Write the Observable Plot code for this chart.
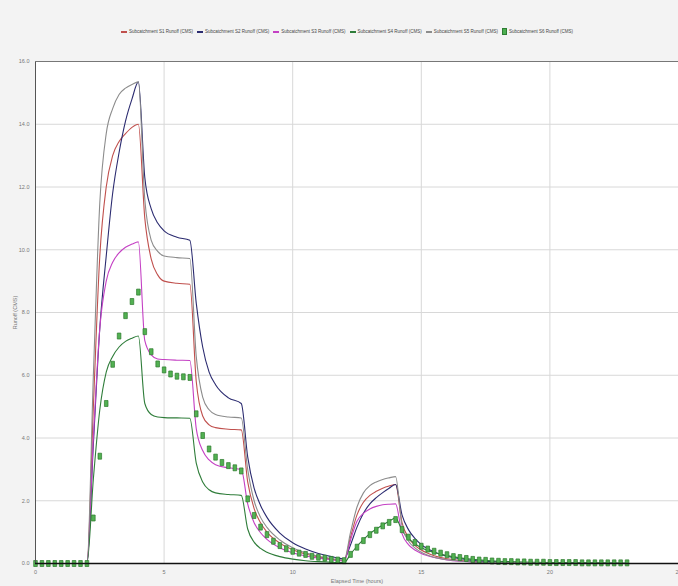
<!DOCTYPE html>
<html>
<head>
<meta charset="utf-8">
<script src="https://cdn.jsdelivr.net/npm/d3@7"></script>
<script src="https://cdn.jsdelivr.net/npm/@observablehq/plot@0.6"></script>
<style>
  html, body { margin: 0; padding: 0; background: #f3f3f3; }
  #wrap { position: relative; width: 678px; height: 586px; overflow: hidden; font-family: "Liberation Sans", Arial, sans-serif; }
  #legend { position: absolute; top: 28px; left: 8px; width: 678px; display: flex; justify-content: center; gap: 4px; font-size: 4.5px; color: #444; white-space: nowrap; }
  #legend .it { display: flex; align-items: center; gap: 2px; }
  #legend .sw { display: inline-block; width: 6px; height: 2px; }
  #legend .mk { display: inline-block; width: 3px; height: 5px; border: 0.6px solid #2e7d32; background: #4caf50; }
  #chart { position: absolute; top: 0; left: 0; }
</style>
</head>
<body>
<div id="wrap">
  <div id="chart"></div>
  <div id="legend"></div>
</div>
<script>
// time (hours) at which the runoff lines are read
const times = [0, 2, 2.25, 2.5, 2.75, 3, 3.25, 3.5, 3.75, 4,
  4.25, 4.5, 4.75, 5, 5.5, 6, 6.25, 6.5, 6.75, 7, 7.5, 8,
  8.25, 8.5, 8.75, 9, 9.5, 10, 10.5, 11, 11.5, 12,
  12.25, 12.5, 12.75, 13, 13.25, 13.5, 13.75, 14,
  14.25, 14.5, 14.75, 15, 15.5, 16, 16.5, 17, 18, 19, 20, 23];

const seriesNames = [
  "Subcatchment S1 Runoff (CMS)",
  "Subcatchment S2 Runoff (CMS)",
  "Subcatchment S3 Runoff (CMS)",
  "Subcatchment S4 Runoff (CMS)",
  "Subcatchment S5 Runoff (CMS)",
  "Subcatchment S6 Runoff (CMS)"
];
const seriesColors = ["#c0504d", "#2b2b70", "#c440c4", "#2f7d3a", "#8c8c8c", "#3ea33e"];

const s1 = [0, 0, 5.0, 9.8, 12.0, 13.0, 13.45, 13.7, 13.9, 14.0,
  11.0, 9.7, 9.2, 9.0, 8.93, 8.9, 5.8, 4.7, 4.42, 4.33, 4.28, 4.26,
  2.6, 1.75, 1.3, 1.0, 0.65, 0.44, 0.3, 0.21, 0.14, 0.1,
  0.85, 1.55, 1.95, 2.17, 2.3, 2.4, 2.47, 2.52,
  1.3, 0.82, 0.58, 0.43, 0.25, 0.15, 0.1, 0.06, 0.03, 0.02, 0.01, 0];
const s2 = [0, 0, 3.8, 7.5, 9.8, 11.8, 13.1, 14.1, 14.8, 15.35,
  12.3, 11.3, 10.85, 10.6, 10.4, 10.3, 8.3, 6.9, 6.1, 5.7, 5.28, 5.1,
  3.4, 2.4, 1.85, 1.47, 0.97, 0.66, 0.46, 0.32, 0.22, 0.15,
  0.6, 1.16, 1.6, 1.9, 2.1, 2.26, 2.4, 2.52,
  1.55, 1.08, 0.8, 0.6, 0.37, 0.23, 0.15, 0.1, 0.05, 0.03, 0.02, 0.01];
const s3 = [0, 0, 4.0, 7.5, 9.0, 9.6, 9.9, 10.08, 10.18, 10.25,
  7.1, 6.65, 6.52, 6.5, 6.48, 6.47, 4.3, 3.6, 3.3, 3.15, 3.05, 3.0,
  1.9, 1.3, 0.98, 0.77, 0.5, 0.34, 0.24, 0.17, 0.12, 0.08,
  0.75, 1.35, 1.6, 1.74, 1.82, 1.87, 1.89, 1.9,
  0.95, 0.6, 0.43, 0.32, 0.19, 0.11, 0.07, 0.05, 0.03, 0.02, 0.01, 0];
const s4 = [0, 0, 2.7, 4.9, 6.1, 6.6, 6.9, 7.08, 7.18, 7.25,
  5.1, 4.75, 4.67, 4.65, 4.64, 4.63, 3.2, 2.6, 2.35, 2.25, 2.2, 2.17,
  1.1, 0.68, 0.48, 0.36, 0.22, 0.14, 0.09, 0.06, 0.04, 0.03,
  0.3, 0.55, 0.76, 0.95, 1.1, 1.23, 1.35, 1.45,
  1.05, 0.8, 0.63, 0.5, 0.35, 0.25, 0.18, 0.13, 0.07, 0.05, 0.03, 0.01];
const s5 = [0, 0, 6.0, 11.5, 13.7, 14.5, 14.95, 15.15, 15.27, 15.35,
  11.6, 10.3, 9.95, 9.8, 9.75, 9.72, 6.6, 5.3, 4.9, 4.75, 4.67, 4.64,
  3.0, 2.0, 1.47, 1.15, 0.75, 0.5, 0.34, 0.23, 0.16, 0.11,
  1.0, 1.8, 2.25, 2.48, 2.6, 2.68, 2.73, 2.77,
  1.2, 0.72, 0.5, 0.36, 0.2, 0.12, 0.08, 0.05, 0.03, 0.02, 0.01, 0];

// S6: markers every 15 minutes from 0 to 23 hours
const s6 = [0, 0, 0, 0, 0, 0, 0, 0, 0,
  1.45, 3.42, 5.1, 6.35, 7.25, 7.9, 8.35, 8.65,
  7.39, 6.75, 6.36, 6.17, 6.04, 5.97, 5.95, 5.93,
  4.77, 4.08, 3.65, 3.39, 3.22, 3.12, 3.05, 2.95,
  2.06, 1.53, 1.16, 0.92, 0.71, 0.57, 0.47, 0.39,
  0.33, 0.29, 0.23, 0.2, 0.17, 0.13, 0.11, 0.09,
  0.29, 0.52, 0.73, 0.92, 1.06, 1.2, 1.31, 1.4,
  1.08, 0.84, 0.67, 0.55, 0.46, 0.39, 0.33, 0.28,
  0.22, 0.19, 0.16, 0.13, 0.11, 0.1, 0.08, 0.07,
  0.06, 0.06, 0.05, 0.05, 0.04, 0.04, 0.04, 0.03,
  0.03, 0.03, 0.03, 0.03, 0.02, 0.02, 0.02, 0.02, 0.02, 0.02, 0.02, 0.02];
const s6Step = 0.25;

const xTicks = [0, 5, 10, 15, 20, 25];
const yTicks = [0, 2, 4, 6, 8, 10, 12, 14, 16];

const lineSeries = [s1, s2, s3, s4, s5];
const lineData = lineSeries.flatMap((vals, k) =>
  times.map((t, i) => ({t, v: vals[i], name: seriesNames[k]})));
const markerData = s6.map((v, i) => ({t: i * s6Step, v, name: seriesNames[5]}));

const rectSymbol = {
  draw(context) {
    context.moveTo(-1.8, -3);
    context.lineTo(1.8, -3);
    context.lineTo(1.8, 3);
    context.lineTo(-1.8, 3);
    context.closePath();
  }
};

const chart = Plot.plot({
  width: 678,
  height: 586,
  marginLeft: 35,
  marginRight: 0,
  marginTop: 61,
  marginBottom: 23,
  style: {background: "transparent", fontFamily: "Liberation Sans, Arial, sans-serif", fontSize: "5.5px", color: "#666"},
  x: {domain: [0, 25]},
  y: {domain: [0, 16]},
  color: {domain: seriesNames, range: seriesColors},
  marks: [
    Plot.frame({fill: "white", stroke: "none"}),
    Plot.gridX(xTicks.slice(1, -1), {stroke: "#d8d8d8", strokeOpacity: 1}),
    Plot.gridY(yTicks.slice(1, -1), {stroke: "#d8d8d8", strokeOpacity: 1}),
    Plot.line(lineData, {x: "t", y: "v", z: "name", stroke: "name", strokeWidth: 1.1, curve: "monotone-x"}),
    Plot.dot(markerData, {x: "t", y: "v", symbol: rectSymbol, fill: "#52b152", stroke: "#2d7a2d", strokeWidth: 0.7}),
    Plot.ruleX([0], {stroke: "#555", strokeWidth: 1}),
    Plot.ruleY([16], {stroke: "#777", strokeWidth: 1}),
    Plot.ruleY([0], {stroke: "#111", strokeWidth: 1.6}),
    Plot.axisX(xTicks, {tickSize: 0, tickPadding: 7, tickFormat: d => d, label: "Elapsed Time (hours)", labelAnchor: "center", labelOffset: 19, labelArrow: "none", fill: "#777"}),
    Plot.axisY(yTicks, {tickSize: 0, tickPadding: 6, tickFormat: d => d.toFixed(1), label: "Runoff (CMS)", labelAnchor: "center", labelOffset: 22, labelArrow: "none", fill: "#777"})
  ]
});
document.getElementById("chart").appendChild(chart);

const legend = document.getElementById("legend");
seriesNames.forEach((name, k) => {
  const it = document.createElement("div");
  it.className = "it";
  const sw = document.createElement("span");
  if (k === 5) { sw.className = "mk"; } else { sw.className = "sw"; sw.style.background = seriesColors[k]; }
  const tx = document.createElement("span");
  tx.textContent = name;
  it.appendChild(sw); it.appendChild(tx);
  legend.appendChild(it);
});
</script>
</body>
</html>
